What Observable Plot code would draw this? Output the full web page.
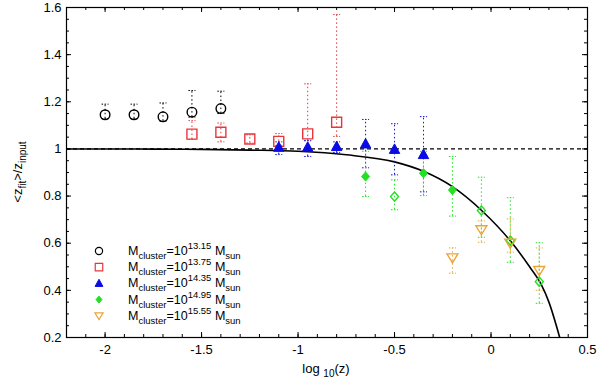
<!DOCTYPE html>
<html><head><meta charset="utf-8">
<script src="https://cdn.jsdelivr.net/npm/d3@7"></script>
<script src="https://cdn.jsdelivr.net/npm/@observablehq/plot@0.6"></script>
<style>
body{margin:0;background:#fff}
#chart{position:relative;width:600px;height:379px}
</style>
</head><body><div id="chart"></div>
<script>
// ---- tick labels ----
const xTicks = [-2, -1.5, -1, -0.5, 0, 0.5];
const yTicks = [0.2, 0.4, 0.6, 0.8, 1, 1.2, 1.4, 1.6];

// ---- legend labels (cluster mass exponents) ----
const seriesNames = ["13.15", "13.75", "14.35", "14.95", "15.55"];
const seriesColors = ["#000000", "#e8373c", "#0a0ae6", "#22e022", "#eba537"];

// ---- M = 10^13.15 (circles) ----
const s1x  = [-2, -1.85, -1.7, -1.55, -1.4];
const s1y  = [1.145, 1.145, 1.136, 1.156, 1.171];
const s1hi = [1.19, 1.19, 1.195, 1.248, 1.245];
const s1lo = [1.128, 1.128, 1.118, 1.135, 1.15];

// ---- M = 10^13.75 (squares) ----
const s2x  = [-1.55, -1.4, -1.25, -1.1, -0.95, -0.8];
const s2y  = [1.063, 1.071, 1.042, 1.032, 1.064, 1.113];
const s2hi = [1.12, 1.11, 1.06, 1.065, 1.276, 1.57];
const s2lo = [1.04, 1.03, 1.025, 1.015, 1.035, 1.053];

// ---- M = 10^14.35 (triangles) ----
const s3x  = [-1.1, -0.95, -0.8, -0.65, -0.5, -0.35];
const s3y  = [1.007, 1.007, 1.01, 1.021, 0.998, 0.976];
const s3hi = [1.03, 1.035, 1.03, 1.125, 1.107, 1.137];
const s3lo = [0.976, 0.968, 0.985, 0.92, 0.89, 0.818];

// ---- M = 10^14.95 (diamonds) ----
const s4x    = [-0.65, -0.5, -0.35, -0.2, -0.05, 0.1, 0.25];
const s4y    = [0.883, 0.798, 0.897, 0.826, 0.739, 0.611, 0.437];
const s4hi   = [0.99, 0.869, 0.99, 0.968, 0.88, 0.793, 0.602];
const s4lo   = [0.798, 0.742, 0.802, 0.715, 0.625, 0.519, 0.345];
const s4open = [false, true, false, false, true, true, true];

// ---- M = 10^15.55 (down triangles) ----
const s5x  = [-0.2, -0.05, 0.1, 0.25];
const s5y  = [0.538, 0.657, 0.60, 0.484];
const s5hi = [0.58, 0.695, 0.703, 0.58];
const s5lo = [0.473, 0.604, 0.562, 0.40];

// ---- model curve ----
const curveX = [-2.2, -2.0, -1.75, -1.5, -1.25, -1.0, -0.75, -0.5, -0.35, -0.2, -0.05, 0.1, 0.2, 0.26, 0.3, 0.356];
const curveY = [1.0, 1.0, 0.999, 0.998, 0.995, 0.99, 0.975, 0.945, 0.905, 0.84, 0.74, 0.61, 0.50, 0.425, 0.35, 0.2];

// ---- build tables ----
function table(s, xs, ys, lo, hi, open) {
  return xs.map((x, i) => ({s, x, y: ys[i], lo: lo[i], hi: hi[i], open: open ? open[i] : false}));
}
const groups = [
  table(0, s1x, s1y, s1lo, s1hi),
  table(1, s2x, s2y, s2lo, s2hi),
  table(2, s3x, s3y, s3lo, s3hi),
  table(3, s4x, s4y, s4lo, s4hi, s4open),
  table(4, s5x, s5y, s5lo, s5hi)
];
const curve = curveX.map((x, i) => ({x, y: curveY[i]}));

// ---- symbols (k = scale factor) ----
const mk = (f) => ({draw(c, size){ f(c, size === 1 ? 0.75 : 1); }});
const symCircle = mk((c, k) => { c.moveTo(4.8 * k, 0); c.arc(0, 0, 4.8 * k, 0, 2 * Math.PI); });
const symSquare = mk((c, k) => { c.rect(-5 * k, -5 * k, 10 * k, 10 * k); });
const symTriUp  = mk((c, k) => { c.moveTo(0, -5.5 * k); c.lineTo(5.2 * k, 4 * k); c.lineTo(-5.2 * k, 4 * k); c.closePath(); });
const symDiam   = mk((c, k) => { c.moveTo(0, -4.6 * k); c.lineTo(4 * k, 0); c.lineTo(0, 4.6 * k); c.lineTo(-4 * k, 0); c.closePath(); });
const symTriDn  = mk((c, k) => { c.moveTo(-5.5 * k, -4 * k); c.lineTo(5.5 * k, -4 * k); c.lineTo(0, 5 * k); c.closePath(); });
const symCap    = {draw(c){ c.moveTo(-3.5, 0); c.lineTo(3.5, 0); }};
const symbols = [symCircle, symSquare, symTriUp, symDiam, symTriDn];
const filled = [false, false, true, true, false];

const W = 600, H = 379, mL = 66, mR = 13, mT = 7, mB = 42;
const FW = W - mL - mR, FH = H - mT - mB;
const xMinor = d3.range(-22, 6).map(i => i / 10);
const yMinor = d3.range(4, 33).map(i => i / 20);

const marks = [
  Plot.ruleY([1], {stroke: "black", strokeWidth: 1.2, strokeDasharray: "4,3"}),
  Plot.line(curve, {x: "x", y: "y", stroke: "black", strokeWidth: 1.6, curve: "monotone-x", clip: true}),
];
// error bars
groups.forEach((g, k) => {
  marks.push(Plot.ruleX(g, {x: "x", y1: "lo", y2: "hi", stroke: seriesColors[k], strokeWidth: 1, strokeDasharray: "1.5,2.5"}));
  marks.push(Plot.dot(g, {x: "x", y: "hi", symbol: symCap, r: 3, stroke: seriesColors[k], strokeWidth: 1, strokeDasharray: "1.5,1.5"}));
  marks.push(Plot.dot(g, {x: "x", y: "lo", symbol: symCap, r: 3, stroke: seriesColors[k], strokeWidth: 1, strokeDasharray: "1.5,1.5"}));
});
// markers
groups.forEach((g, k) => {
  const solid = g.filter(d => filled[k] && !d.open);
  const hollow = g.filter(d => !(filled[k] && !d.open));
  marks.push(Plot.dot(solid, {x: "x", y: "y", symbol: symbols[k], r: 4, fill: seriesColors[k], stroke: seriesColors[k], strokeWidth: 1}));
  marks.push(Plot.dot(hollow, {x: "x", y: "y", symbol: symbols[k], r: 4, fill: "none", stroke: seriesColors[k], strokeWidth: 1.4}));
});
// inward ticks on all four sides
marks.push(
  Plot.tickX(xTicks, {x: d => d, insetTop: FH - 5, stroke: "black"}),
  Plot.tickX(xTicks, {x: d => d, insetBottom: FH - 5, stroke: "black"}),
  Plot.tickX(xMinor, {x: d => d, insetTop: FH - 3, stroke: "black"}),
  Plot.tickX(xMinor, {x: d => d, insetBottom: FH - 3, stroke: "black"}),
  Plot.tickY(yTicks, {y: d => d, insetRight: FW - 5, stroke: "black"}),
  Plot.tickY(yTicks, {y: d => d, insetLeft: FW - 5, stroke: "black"}),
  Plot.tickY(yMinor, {y: d => d, insetRight: FW - 3, stroke: "black"}),
  Plot.tickY(yMinor, {y: d => d, insetLeft: FW - 3, stroke: "black"}),
  Plot.axisX({ticks: xTicks, tickSize: 0, tickPadding: 7, tickFormat: d => String(d), label: null, fontSize: 13}),
  Plot.axisY({ticks: yTicks, tickSize: 0, tickPadding: 5, tickFormat: d => String(d), label: null, fontSize: 13}),
  Plot.frame({stroke: "black", strokeWidth: 1.2})
);

const plot = Plot.plot({
  width: W, height: H,
  marginLeft: mL, marginRight: mR, marginTop: mT, marginBottom: mB,
  x: {domain: [-2.2, 0.5]},
  y: {domain: [0.2, 1.6]},
  style: {fontFamily: "'Liberation Sans', Arial, sans-serif", fontSize: "13px", color: "black", background: "white"},
  marks
});
document.getElementById("chart").appendChild(plot);

// ---- axis titles and legend with sub/superscripts ----
const svg = d3.select(plot);
const font = "'Liberation Sans', Arial, sans-serif";
const xl = svg.append("text").attr("x", 326).attr("y", 373).attr("text-anchor", "middle")
  .attr("font-family", font).attr("font-size", 13).attr("fill", "black");
xl.append("tspan").text("log ");
xl.append("tspan").attr("font-size", 10).attr("dy", 4).text("10");
xl.append("tspan").attr("dy", -4).text("(z)");

const yl = svg.append("text").attr("transform", "translate(22,172) rotate(-90)").attr("text-anchor", "middle")
  .attr("font-family", font).attr("font-size", 13).attr("fill", "black");
yl.append("tspan").text("<z");
yl.append("tspan").attr("font-size", 10).attr("dy", 4).text("fit");
yl.append("tspan").attr("dy", -4).text(">/z");
yl.append("tspan").attr("font-size", 10).attr("dy", 4).text("input");

const leg = svg.append("g").attr("font-family", font).attr("fill", "black").attr("text-anchor", "start");
seriesNames.forEach((name, k) => {
  const cy = 251 + k * 16.2;
  leg.append("path").attr("transform", `translate(99,${cy})`)
    .attr("d", d3.symbol(symbols[k], 1)())
    .attr("fill", filled[k] ? seriesColors[k] : "none")
    .attr("stroke", seriesColors[k]).attr("stroke-width", filled[k] ? 1 : 1.2);
  const t = leg.append("text").attr("x", 128).attr("y", cy + 4).attr("font-size", 12.5).attr("text-anchor", "start");
  t.append("tspan").text("M");
  t.append("tspan").attr("font-size", 9.5).attr("dy", 4).text("cluster");
  t.append("tspan").attr("dy", -4).text("=10");
  t.append("tspan").attr("font-size", 9.5).attr("dy", -6).text(name);
  t.append("tspan").attr("dy", 6).text(" M");
  t.append("tspan").attr("font-size", 9.5).attr("dy", 4).text("sun");
});
</script>
</body></html>
